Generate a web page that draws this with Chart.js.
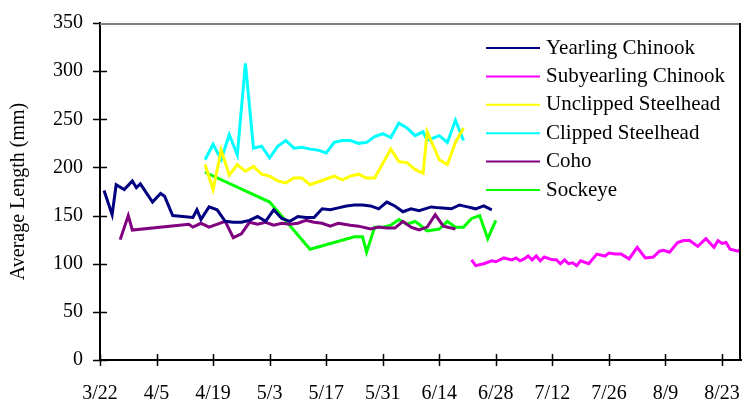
<!DOCTYPE html>
<html>
<head>
<meta charset="utf-8">
<script src="https://cdn.jsdelivr.net/npm/chart.js@4.4.1/dist/chart.umd.min.js"></script>
<style>
	html, body { margin: 0; padding: 0; background: #ffffff; }
</style>
</head>
<body>
<canvas id="fish-length-chart" width="743" height="403"></canvas>
<script>
// ── Data (x = days after 3/22) ─────────────────────────────

const tickDays = [ 0, 14, 28, 42, 56, 70, 84, 98, 112, 126, 140, 154 ];
const tickLabels = [ '3/22', '4/5', '4/19', '5/3', '5/17', '5/31', '6/14', '6/28', '7/12', '7/26', '8/9', '8/23' ];

const yearlingDays = [ 1, 3, 4, 6, 8, 9, 10, 13, 15, 16, 18, 23, 24, 25, 27, 29, 31, 33, 35, 37, 39, 41, 43, 45, 47, 49, 51, 53, 55, 57, 59, 61, 63, 65, 67, 69, 71, 73, 75, 77, 79, 82, 84, 87, 89, 91, 93, 95, 97 ];
const yearlingLen = [ 176, 151, 182, 177, 186, 179, 183, 164, 173, 170, 150, 148, 156, 146, 159, 156, 144, 143, 143, 145, 149, 144, 156, 147, 144, 149, 148, 148, 157, 156, 158, 160, 161, 161, 160, 157, 164, 160, 154, 157, 155, 159, 158, 157, 161, 159, 157, 160, 156 ];

const subyearlingDays = [ 92, 93, 95, 97, 98, 100, 102, 103, 104, 105, 106, 107, 108, 109, 110, 112, 113, 114, 115, 116, 117, 118, 119, 121, 123, 125, 126, 127.5, 129, 131, 133, 135, 137, 138.5, 139.5, 141, 143, 144.5, 146, 148, 150, 152, 153, 154, 155, 156, 158, 159 ];
const subyearlingLen = [ 104, 98, 100, 103, 102, 106, 104, 106, 103, 105, 108, 104, 108, 103, 107, 104, 104, 100, 104, 100, 101, 98, 103, 100, 110, 108, 111, 110, 110, 105, 117, 106, 107, 113, 114, 112, 122, 124, 124, 118, 126, 117, 124, 121, 122, 115, 113, 116 ];

const unclippedDays = [ 26, 28, 30, 32, 34, 36, 38, 40, 42, 44, 46, 48, 50, 52, 54, 56, 58, 60, 62, 64, 66, 68, 70, 72, 74, 76, 78, 80, 81, 84, 86, 88, 90 ];
const unclippedLen = [ 203, 177, 218, 192, 203, 196, 201, 193, 191, 186, 184, 189, 189, 182, 185, 188, 191, 187, 191, 193, 189, 189, 204, 219, 206, 205, 198, 194, 237, 208, 203, 226, 241 ];

const clippedDays = [ 26, 28, 30, 32, 34, 36, 38, 40, 42, 44, 46, 48, 50, 52, 54, 56, 58, 60, 62, 64, 66, 68, 70, 72, 74, 76, 78, 80, 81, 84, 86, 88, 90 ];
const clippedLen = [ 208, 224, 208, 234, 213, 308, 220, 222, 210, 222, 228, 220, 221, 219, 218, 215, 226, 228, 228, 225, 226, 232, 235, 231, 246, 241, 233, 237, 228, 233, 226, 249, 228 ];

const cohoDays = [ 5, 7, 8, 22, 23, 25, 27, 31, 33, 35, 37, 39, 41, 43, 45, 47, 49, 51, 53, 55, 57, 59, 62, 64, 67, 69, 71, 73, 75, 77, 79, 81, 83, 85, 88 ];
const cohoLen = [ 125, 150, 135, 141, 138, 142, 138, 144, 127, 131, 143, 141, 143, 140, 142, 141, 142, 145, 143, 142, 139, 142, 140, 139, 136, 138, 137, 137, 144, 138, 135, 138, 151, 139, 136 ];

const sockeyeDays = [ 26, 42, 52, 63, 65, 66, 68, 70, 72, 74, 76, 78, 79, 81, 84, 86, 88, 90, 92, 94, 96, 98 ];
const sockeyeLen = [ 195, 164, 115, 128, 128, 112, 138, 138, 140, 146, 141, 144, 141, 134, 136, 144, 138, 138, 147, 150, 126, 145 ];

// ── Palette ───────────────────────────────────────────────

const colors = {
	yearling: '#000080',
	subyearling: '#ff00ff',
	unclipped: '#ffff00',
	clipped: '#00ffff',
	coho: '#800080',
	sockeye: '#00ff00',
	axis: '#000000',
	frameTop: '#808080',
	text: '#000000',
};

const serif = "'Liberation Serif', 'Times New Roman', serif";
const labelFont = { family: serif, size: 20 };

const toPoints = ( days, values ) => days.map( ( d, i ) => ( { x: d, y: values[ i ] } ) );

const series = [
	{ label: 'Yearling Chinook', days: yearlingDays, values: yearlingLen, color: colors.yearling },
	{ label: 'Subyearling Chinook', days: subyearlingDays, values: subyearlingLen, color: colors.subyearling },
	{ label: 'Unclipped Steelhead', days: unclippedDays, values: unclippedLen, color: colors.unclipped },
	{ label: 'Clipped Steelhead', days: clippedDays, values: clippedLen, color: colors.clipped },
	{ label: 'Coho', days: cohoDays, values: cohoLen, color: colors.coho },
	{ label: 'Sockeye', days: sockeyeDays, values: sockeyeLen, color: colors.sockeye },
];

// ── Plugin: plot frame, crossing tick marks, in-plot legend ──

const plotDecor = {
	id: 'plotDecor',
	afterDatasetsDraw( chart ) {
		const { ctx, chartArea } = chart;
		const { x, y } = chart.scales;
		ctx.save();

		// frame: gray top edge, black right edge
		ctx.lineWidth = 2;
		ctx.strokeStyle = colors.frameTop;
		ctx.beginPath();
		ctx.moveTo( chartArea.left, chartArea.top + 1 );
		ctx.lineTo( chartArea.right, chartArea.top + 1 );
		ctx.stroke();
		ctx.strokeStyle = colors.axis;
		ctx.beginPath();
		ctx.moveTo( chartArea.right - 1, chartArea.top );
		ctx.lineTo( chartArea.right - 1, chartArea.bottom );
		ctx.stroke();

		// tick marks crossing the axes
		ctx.lineWidth = 1.5;
		ctx.beginPath();
		x.ticks.forEach( ( t ) => {
			const px = Math.round( x.getPixelForValue( t.value ) ) + 0.5;
			ctx.moveTo( px, chartArea.bottom - 6 );
			ctx.lineTo( px, chartArea.bottom + 6 );
		} );
		y.ticks.forEach( ( t ) => {
			const py = Math.round( y.getPixelForValue( t.value ) ) + 0.5;
			ctx.moveTo( chartArea.left - 7, py );
			ctx.lineTo( t.value === 350 ? chartArea.left : chartArea.left + 7, py );
		} );
		ctx.stroke();

		// legend inside the plot
		const lineX = chartArea.left + 386;
		const lineW = 54;
		const rowY = chartArea.top + 25;
		const rowH = 28.4;
		ctx.font = `21px ${ serif }`;
		ctx.textBaseline = 'middle';
		ctx.fillStyle = colors.text;
		ctx.lineWidth = 2;
		chart.data.datasets.forEach( ( ds, i ) => {
			const yy = rowY + i * rowH;
			ctx.strokeStyle = ds.borderColor;
			ctx.beginPath();
			ctx.moveTo( lineX, yy );
			ctx.lineTo( lineX + lineW, yy );
			ctx.stroke();
			ctx.fillText( ds.label, lineX + lineW + 6, yy );
		} );
		ctx.restore();
	},
};

// ── Chart ─────────────────────────────────────────────────

new Chart( document.getElementById( 'fish-length-chart' ), {
	type: 'line',
	data: {
		datasets: series.map( ( s ) => ( {
			label: s.label,
			data: toPoints( s.days, s.values ),
			borderColor: s.color,
			backgroundColor: s.color,
			borderWidth: 3,
			pointRadius: 0,
			tension: 0,
			fill: false,
		} ) ),
	},
	options: {
		responsive: false,
		animation: false,
		layout: { padding: { top: 23, right: 2, left: 0, bottom: 0 } },
		plugins: {
			legend: { display: false },
			tooltip: { enabled: false },
		},
		scales: {
			x: {
				type: 'linear',
				min: 0,
				max: 158.7,
				afterBuildTicks: ( scale ) => {
					scale.ticks = tickDays.map( ( v ) => ( { value: v } ) );
				},
				afterFit: ( scale ) => {
					scale.height = 43;
					scale.paddingLeft = 0;
					scale.paddingRight = 0;
				},
				grid: { display: false, drawTicks: false },
				border: { color: colors.axis, width: 2 },
				ticks: {
					callback: ( value, index ) => tickLabels[ index ],
					color: colors.text,
					font: labelFont,
					padding: 22,
					maxRotation: 0,
					autoSkip: false,
				},
			},
			y: {
				min: 0,
				max: 350,
				afterFit: ( scale ) => {
					scale.width = 100;
					scale.paddingTop = 0;
					scale.paddingBottom = 0;
				},
				grid: { display: false, drawTicks: false },
				border: { color: colors.axis, width: 2 },
				ticks: {
					stepSize: 50,
					color: colors.text,
					font: labelFont,
					padding: 17,
				},
				title: {
					display: true,
					text: 'Average Length (mm)',
					color: colors.text,
					font: labelFont,
					padding: { top: 7, bottom: 0 },
				},
			},
		},
	},
	plugins: [ plotDecor ],
} );
</script>
</body>
</html>
